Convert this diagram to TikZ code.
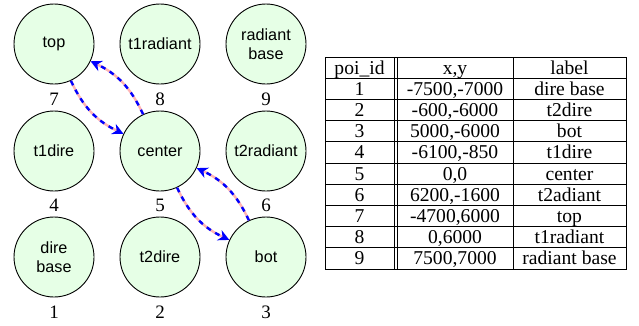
\documentclass[tikz,border=0pt]{standalone}
\usepackage{fontspec}
\setmainfont{Liberation Serif}
\newfontfamily\circfont{Liberation Sans}
\usetikzlibrary{arrows.meta}
\definecolor{circfill}{RGB}{230,255,230}
\definecolor{pinkdash}{RGB}{255,180,180}
\definecolor{bluedash}{RGB}{0,0,255}
\begin{document}
\begin{tikzpicture}[x=1pt,y=-1pt,
  poi/.style={circle, draw, line width=0.9pt, fill=circfill, minimum size=80pt, inner sep=0pt,
    font=\circfont\fontsize{16.2}{18.5}\selectfont, align=center},
  num/.style={font=\fontsize{19}{22}\selectfont, inner sep=0pt},
  pinkline/.style={draw=pinkdash, line width=2.4pt, shorten >=7pt},
  blueline/.style={draw=bluedash, line width=2.4pt, dash pattern=on 5pt off 5pt,
    -{Stealth[length=11pt,width=11pt,inset=3.5pt]}},
  tabline/.style={line width=0.8pt},
  cell/.style={font=\fontsize{19.6}{22}\selectfont, inner sep=0pt, anchor=base}]
\useasboundingbox (0,0) rectangle (639,325);
% circles
\node[poi] (top) at (54,44) {top};
\node[poi] (t1radiant) at (160,44) {t1radiant};
\node[poi] (radiantbase) at (266,44) {radiant\\base};
\node[poi] (t1dire) at (54,151) {t1dire};
\node[poi] (center) at (160,151) {center};
\node[poi] (t2radiant) at (266,151) {t2radiant};
\node[poi] (direbase) at (54,257) {dire\\base};
\node[poi] (t2dire) at (160,257) {t2dire};
\node[poi] (bot) at (266,257) {bot};
% numbers
\node[num] (n7) at (54,99) {7};
\node[num] (n8) at (160,99) {8};
\node[num] (n9) at (266,99) {9};
\node[num] (n4) at (54,205) {4};
\node[num] (n5) at (160,205) {5};
\node[num] (n6) at (266,205) {6};
\node[num] (n1) at (54,312) {1};
\node[num] (n2) at (160,312) {2};
\node[num] (n3) at (266,312) {3};
% arrows
\draw[pinkline] (top) to[bend right=20] (center);
\draw[blueline] (top) to[bend right=20] (center);
\draw[pinkline] (center) to[bend right=20] (top);
\draw[blueline] (center) to[bend right=20] (top);
\draw[pinkline] (center) to[bend right=20] (bot);
\draw[blueline] (center) to[bend right=20] (bot);
\draw[pinkline] (bot) to[bend right=20] (center);
\draw[blueline] (bot) to[bend right=20] (center);
% table
\draw[tabline] (325,57) rectangle (626,269);
\foreach \k in {1,...,9}{
  \draw[tabline] (325,57+21.2*\k) -- (626,57+21.2*\k);
}
\draw[tabline] (394,57) -- (394,269);
\draw[tabline] (397,57) -- (397,269);
\draw[tabline] (513,57) -- (513,269);
\foreach \a/\b/\c [count=\i from 0] in {
  {poi\_id}/{x,y}/{label},
  {1}/{-7500,-7000}/{dire base},
  {2}/{-600,-6000}/{t2dire},
  {3}/{5000,-6000}/{bot},
  {4}/{-6100,-850}/{t1dire},
  {5}/{0,0}/{center},
  {6}/{6200,-1600}/{t2adiant},
  {7}/{-4700,6000}/{top},
  {8}/{0,6000}/{t1radiant},
  {9}/{7500,7000}/{radiant base}}{
  \pgfmathsetmacro{\yb}{57+21.2*\i+10.6+6.5}
  \node[cell] (ca\i) at (359.5,\yb) {\a};
  \node[cell] (cb\i) at (455,\yb) {\b};
  \node[cell] (cc\i) at (569.5,\yb) {\c};
}
\end{tikzpicture}
\end{document}
